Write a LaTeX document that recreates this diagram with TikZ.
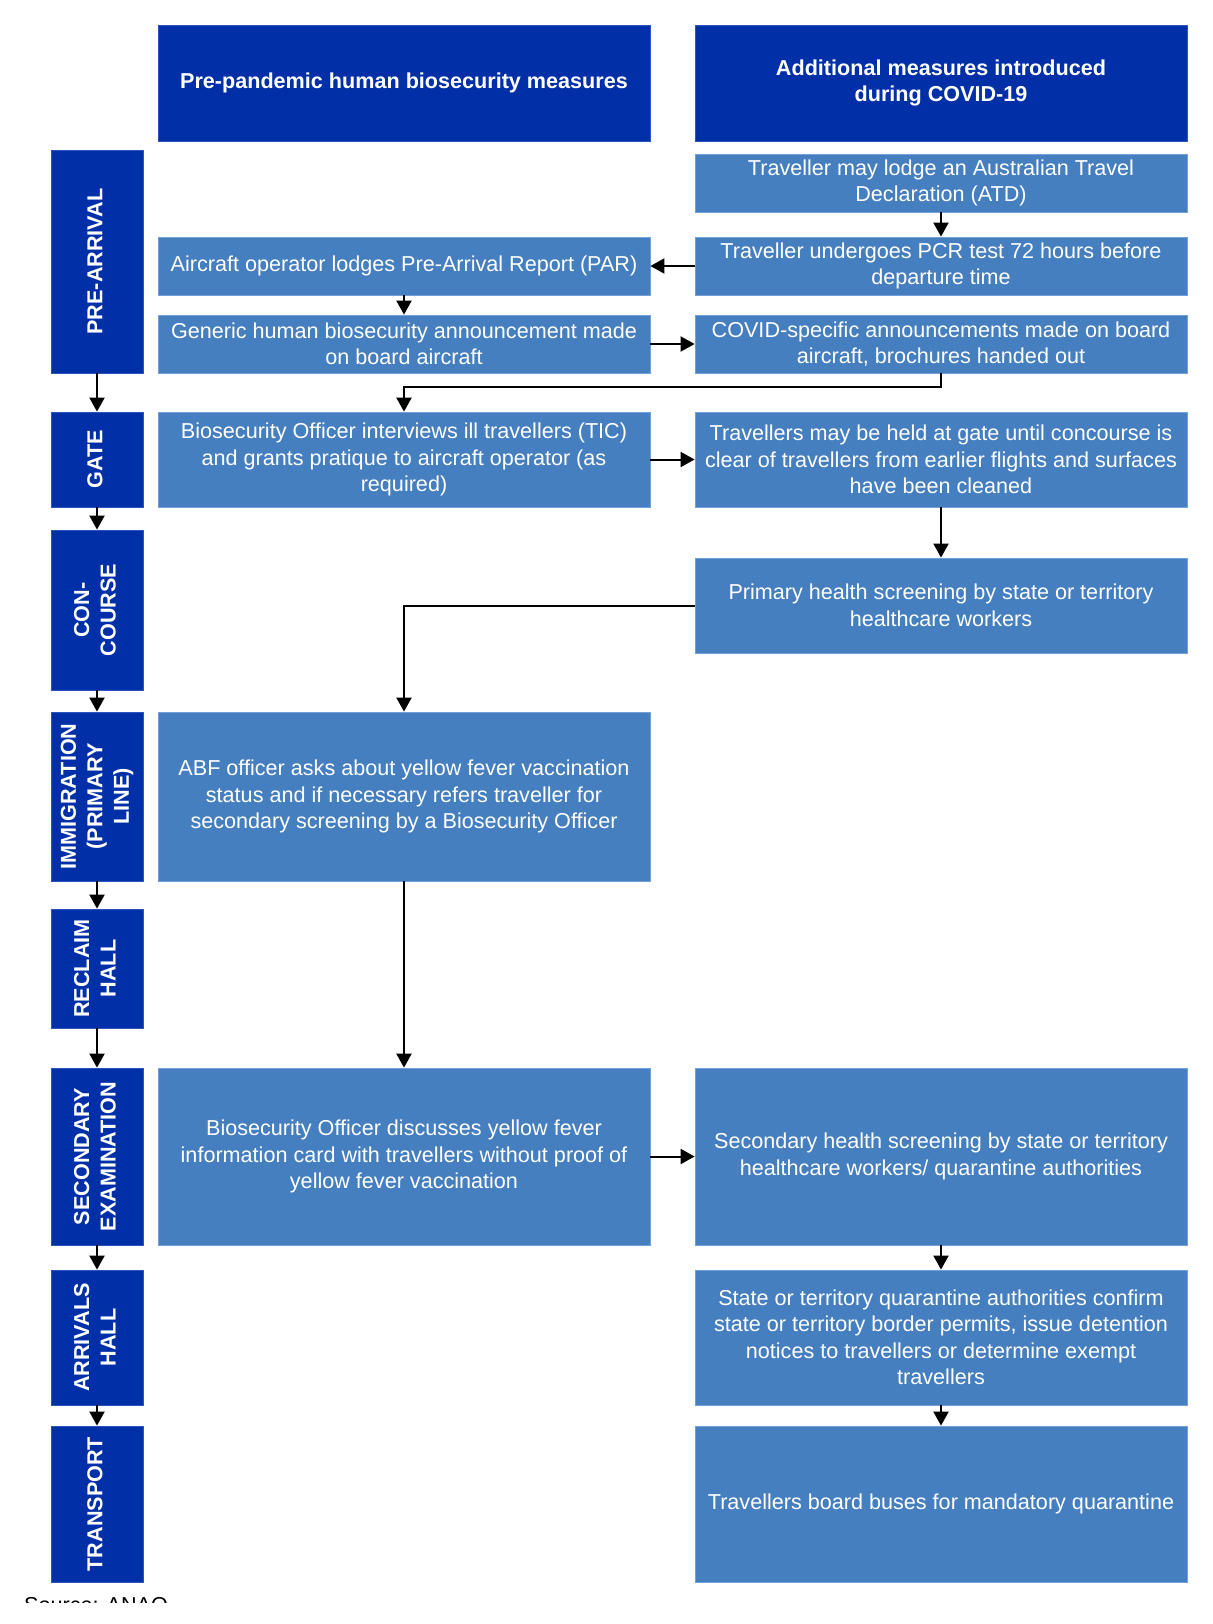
\documentclass[tikz,border=0pt]{standalone}
\usepackage{fontspec}
\setmainfont{Liberation Sans}
\usetikzlibrary{arrows.meta}
\definecolor{darkb}{RGB}{0,47,167}
\definecolor{darkedge}{RGB}{45,85,190}
\definecolor{lightb}{RGB}{69,127,192}
\definecolor{lightedge}{RGB}{115,160,218}
\newcommand\vlab[1]{\rotatebox{90}{\begin{tabular}{@{}c@{}}#1\end{tabular}}}
\begin{document}
\begin{tikzpicture}[x=1pt,y=-1pt,
  txt/.style={font=\fontsize{21.6}{26.5}\selectfont, text=white, align=center, inner sep=0pt},
  box/.style={txt, rectangle, fill=lightb, draw=lightedge, line width=0.8pt, minimum width=492pt},
  hdr/.style={txt, rectangle, fill=darkb, draw=darkedge, line width=0.8pt, minimum width=492pt, font=\fontsize{21.6}{26.5}\selectfont\bfseries},
  stage/.style={txt, rectangle, fill=darkb, draw=darkedge, line width=0.8pt, minimum width=92pt, font=\fontsize{21.6}{26.5}\selectfont\bfseries},
  arr/.style={-{Triangle[width=15pt,length=14pt]}, line width=2pt, black}]
\useasboundingbox (0,0) rectangle (1212,1624);

% headers
\node[hdr, minimum height=116pt] (hdrL) at (404,83) {Pre-pandemic human biosecurity measures};
\node[hdr, minimum height=116pt] (hdrR) at (941,83) {Additional measures introduced\\during COVID-19};

% stages
\node[stage, minimum height=223pt] (spre) at (97,261.5) {\vlab{PRE-ARRIVAL}};
\node[stage, minimum height=95pt] (sgate) at (97,459.5) {\vlab{GATE}};
\node[stage, minimum height=160pt] (sconc) at (97,610) {\vlab{CON-\\COURSE}};
\node[stage, minimum height=169pt] (simm) at (97,796.5) {\vlab{IMMIGRATION\\(PRIMARY\\LINE)}};
\node[stage, minimum height=119pt] (srec) at (97,968.5) {\vlab{RECLAIM\\HALL}};
\node[stage, minimum height=177pt] (ssec) at (97,1156.5) {\vlab{SECONDARY\\EXAMINATION}};
\node[stage, minimum height=135pt] (sarr) at (97,1337.5) {\vlab{ARRIVALS\\HALL}};
\node[stage, minimum height=156pt] (strn) at (97,1504) {\vlab{TRANSPORT}};

% left column
\node[box, minimum height=58pt] (par) at (404,266) {Aircraft operator lodges Pre-Arrival Report (PAR)};
\node[box, minimum height=58pt] (gen) at (404,344) {Generic human biosecurity announcement made\\on board aircraft};
\node[box, minimum height=95pt] (bint) at (404,459.5) {Biosecurity Officer interviews ill travellers (TIC)\\and grants pratique to aircraft operator (as\\required)};
\node[box, minimum height=169pt] (abf) at (404,796.5) {ABF officer asks about yellow fever vaccination\\status and if necessary refers traveller for\\secondary screening by a Biosecurity Officer};
\node[box, minimum height=177pt] (bdis) at (404,1156.5) {Biosecurity Officer discusses yellow fever\\information card with travellers without proof of\\yellow fever vaccination};

% right column
\node[box, minimum height=58pt] (atd) at (941,183) {Traveller may lodge an Australian Travel\\Declaration (ATD)};
\node[box, minimum height=58pt] (pcr) at (941,266) {Traveller undergoes PCR test 72 hours before\\departure time};
\node[box, minimum height=58pt] (cov) at (941,344) {COVID-specific announcements made on board\\aircraft, brochures handed out};
\node[box, minimum height=95pt] (held) at (941,459.5) {Travellers may be held at gate until concourse is\\clear of travellers from earlier flights and surfaces\\have been cleaned};
\node[box, minimum height=95pt] (prim) at (941,605.5) {Primary health screening by state or territory\\healthcare workers};
\node[box, minimum height=177pt] (sech) at (941,1156.5) {Secondary health screening by state or territory\\healthcare workers/ quarantine authorities};
\node[box, minimum height=135pt] (state) at (941,1337.5) {State or territory quarantine authorities confirm\\state or territory border permits, issue detention\\notices to travellers or determine exempt\\travellers};
\node[box, minimum height=156pt] (bus) at (941,1504) {Travellers board buses for mandatory quarantine};

% stage arrows
\draw[arr] (spre) -- (sgate);
\draw[arr] (sgate) -- (sconc);
\draw[arr] (sconc) -- (simm);
\draw[arr] (simm) -- (srec);
\draw[arr] (srec) -- (ssec);
\draw[arr] (ssec) -- (sarr);
\draw[arr] (sarr) -- (strn);

% flow arrows
\draw[arr] (atd) -- (pcr);
\draw[arr] (pcr) -- (par);
\draw[arr] (par) -- (gen);
\draw[arr] (gen) -- (cov);
\draw[arr] (cov.south) -- ++(0,14) -| (bint.north);
\draw[arr] (bint) -- (held);
\draw[arr] (held) -- (prim);
\draw[arr] (prim.west) -| (abf.north);
\draw[arr] (abf) -- (bdis);
\draw[arr] (bdis) -- (sech);
\draw[arr] (sech) -- (state);
\draw[arr] (state) -- (bus);

% source line, cut off at the lower edge
\begin{scope}
\clip (0,1590) rectangle (400,1602);
\node[anchor=base west, inner sep=0pt, font=\fontsize{21.6}{26.5}\selectfont] (src) at (24,1612.5) {Source: ANAO.};
\end{scope}
\end{tikzpicture}
\end{document}
